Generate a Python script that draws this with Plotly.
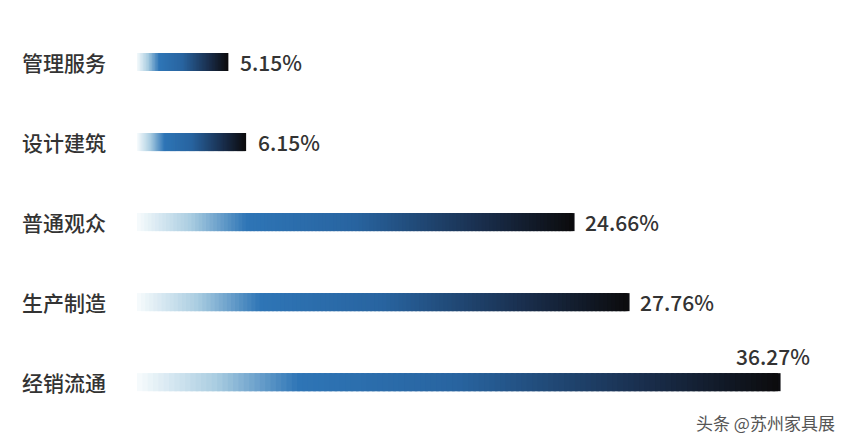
import plotly.graph_objects as go

categories = ["经销流通", "生产制造", "普通观众", "设计建筑", "管理服务"]
values = [36.27, 27.76, 24.66, 6.15, 5.15]
labels = ["36.27%", "27.76%", "24.66%", "6.15%", "5.15%"]

stops = [(0.0, (245, 250, 252)), (0.12, (170, 205, 225)), (0.25, (46, 117, 182)),
         (0.5, (40, 100, 160)), (0.8, (25, 45, 75)), (1.0, (12, 12, 14))]

def col(t):
    for (a, ca), (b, cb) in zip(stops, stops[1:]):
        if t <= b:
            f = (t - a) / (b - a)
            c = [round(ca[i] + (cb[i] - ca[i]) * f) for i in range(3)]
            return f"rgb({c[0]},{c[1]},{c[2]})"
    return "rgb(12,12,14)"

W, H = 841, 435
N = 120
fig = go.Figure()
txt = dict(size=21, color="#333333", weight=500)
for i, v in enumerate(values):
    seg = v / N
    fig.add_trace(go.Bar(
        y=[i] * N, x=[seg * 2.5 if k < N - 1 else seg for k in range(N)],
        base=[seg * k for k in range(N)],
        orientation="h", width=0.225,
        marker=dict(color=[col(k / (N - 1)) for k in range(N)], line=dict(width=0)),
        hoverinfo="skip", showlegend=False))
    fig.add_annotation(x=12 / W, xref="paper", xanchor="left", y=i, yref="y",
                       text=categories[i], showarrow=False, font=txt)
    if i == 0:
        fig.add_annotation(x=v, y=i + 0.33, text=labels[i], showarrow=False,
                           xanchor="left", xshift=-44, font=txt)
    else:
        fig.add_annotation(x=v, y=i, text=labels[i], showarrow=False,
                           xanchor="left", xshift=10, font=txt)

fig.add_annotation(x=1, y=0.0, xref="paper", yref="paper", xanchor="right", yanchor="bottom",
                   xshift=-12, yshift=6,
                   text="头条 @苏州家具展", showarrow=False, font=dict(size=17, color="#555"))

fig.update_layout(
    width=W, height=H, margin=dict(l=0, r=0, t=0, b=0),
    barmode="overlay", plot_bgcolor="white", paper_bgcolor="white",
    font=dict(family="Noto Sans CJK SC"),
    xaxis=dict(domain=[129 / W, 1], range=[0, 712 / 17.67], visible=False),
    yaxis=dict(range=[-0.76, 4.675], visible=False),
)
fig.write_html("out.html")
